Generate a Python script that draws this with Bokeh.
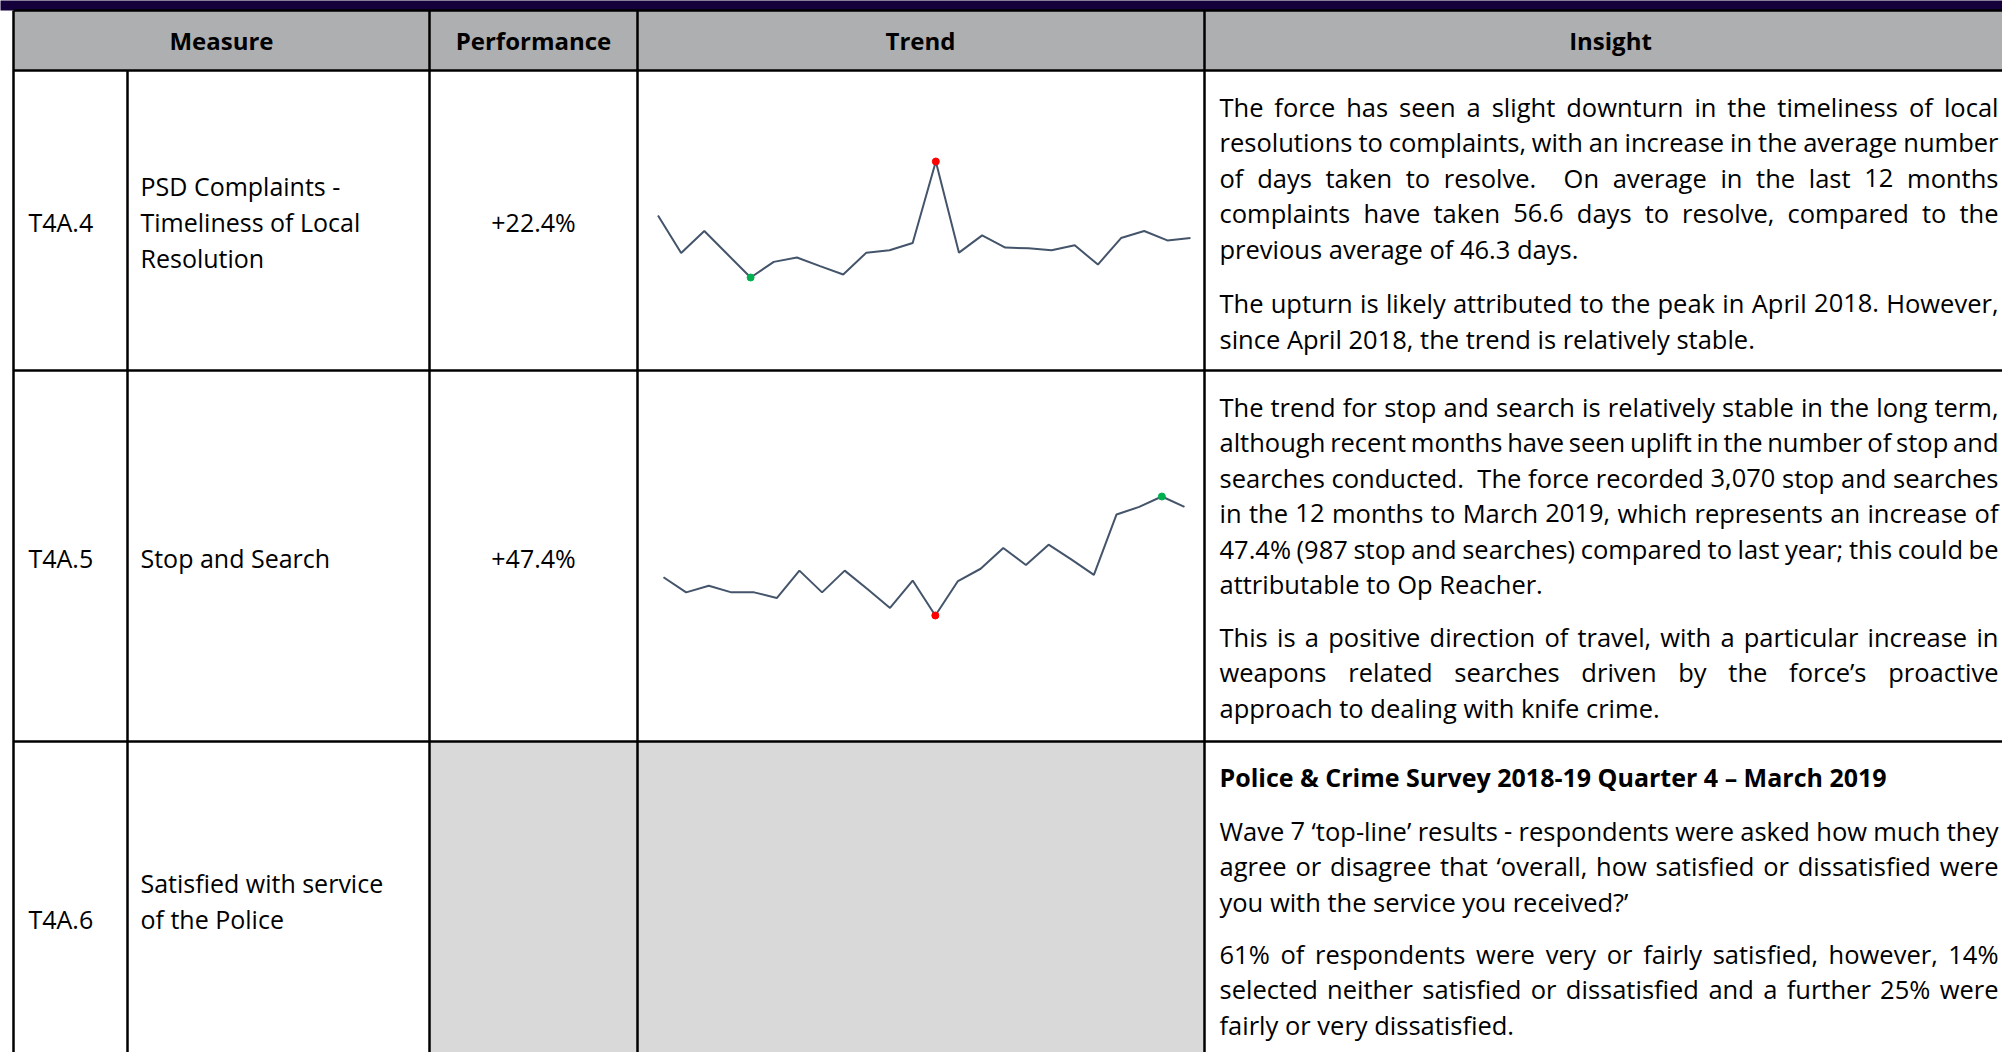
from bokeh.plotting import figure
from bokeh.models import Range1d
from bokeh.core.properties import value
from bokeh.embed import file_html
from bokeh.resources import INLINE

# ---------------- data ----------------
months = ["Apr-17", "May-17", "Jun-17", "Jul-17", "Aug-17", "Sep-17", "Oct-17", "Nov-17",
          "Dec-17", "Jan-18", "Feb-18", "Mar-18", "Apr-18", "May-18", "Jun-18", "Jul-18",
          "Aug-18", "Sep-18", "Oct-18", "Nov-18", "Dec-18", "Jan-19", "Feb-19", "Mar-19"]
psd_days = [71.5, 46.4, 61.1, 45.5, 29.9, 40.4, 43.3, 37.5, 31.9, 46.6, 48.2, 53.1,
            107.8, 46.6, 58.2, 50.0, 49.5, 48.2, 51.5, 38.6, 56.4, 61.1, 54.8, 56.4]
stop_search = [195, 163, 177, 163, 163, 151, 209, 163, 209, 170, 130, 188,
               114, 187, 213, 257, 221, 264, 233, 200, 328, 344, 366, 344]

headers = ["Measure", "Performance", "Trend", "Insight"]
codes = ["T4A.4", "T4A.5", "T4A.6"]
measures = [["PSD Complaints -", "Timeliness of Local", "Resolution"],
            ["Stop and Search"],
            ["Satisfied with service", "of the Police"]]
performance = ["+22.4%", "+47.4%", ""]

insight_1 = [["The force has seen a slight downturn in the timeliness of local",
              "resolutions to complaints, with an increase in the average number",
              "of days taken to resolve.  On average in the last 12 months",
              "complaints have taken 56.6 days to resolve, compared to the",
              "previous average of 46.3 days."],
             ["The upturn is likely attributed to the peak in April 2018. However,",
              "since April 2018, the trend is relatively stable."]]
insight_2 = [["The trend for stop and search is relatively stable in the long term,",
              "although recent months have seen uplift in the number of stop and",
              "searches conducted.  The force recorded 3,070 stop and searches",
              "in the 12 months to March 2019, which represents an increase of",
              "47.4% (987 stop and searches) compared to last year; this could be",
              "attributable to Op Reacher."],
             ["This is a positive direction of travel, with a particular increase in",
              "weapons related searches driven by the force\u2019s proactive",
              "approach to dealing with knife crime."]]
insight_3_title = "Police & Crime Survey 2018-19 Quarter 4 \u2013 March 2019"
insight_3 = [["Wave 7 \u2018top-line\u2019 results - respondents were asked how much they",
              "agree or disagree that \u2018overall, how satisfied or dissatisfied were",
              "you with the service you received?\u2019"],
             ["61% of respondents were very or fairly satisfied, however, 14%",
              "selected neither satisfied or dissatisfied and a further 25% were",
              "fairly or very dissatisfied."]]

# ---------------- layout ----------------
PX0, PY0 = 0, 0
W, H = 2002, 1052
FONT = value("Open Sans")

p = figure(width=W, height=H, x_range=Range1d(PX0, PX0 + W), y_range=Range1d(PY0 + H, PY0),
           output_backend="svg", toolbar_location=None, min_border=0,
           x_axis_location=None, y_axis_location=None)
p.grid.visible = False
p.outline_line_color = None
p.background_fill_color = "white"
p.border_fill_color = "white"

XR = PX0 + W + 40
YB = PY0 + H + 40
# top bar, header, grey cells
p.quad(left=[-10], right=[XR], top=[-10], bottom=[10], fill_color="#14003A", line_color=None)
p.quad(left=[13], right=[XR], top=[10], bottom=[70], fill_color="#AEAFB1", line_color=None)
p.quad(left=[429], right=[1204], top=[741], bottom=[YB], fill_color="#D9D9D9", line_color=None)

# grid lines
lw = 2.5
p.segment(x0=[13, 13, 13, 13], y0=[10, 70, 370, 741], x1=[XR] * 4, y1=[10, 70, 370, 741],
          line_color="black", line_width=lw)
p.segment(x0=[13, 127, 429, 637, 1204], y0=[10, 70, 10, 10, 10],
          x1=[13, 127, 429, 637, 1204], y1=[YB] * 5, line_color="black", line_width=lw)

# ---------------- sparklines ----------------
def x_range_for(n, px_a, px_b):
    scale = (px_b - px_a) / (n - 1)
    start = -(px_a - PX0) / scale
    return Range1d(start, start + W / scale)

def y_range_for(vmin, vmax, py_min, py_max):
    scale = (py_min - py_max) / (vmax - vmin)
    end = vmax + (py_max - PY0) / scale
    return Range1d(end - H / scale, end)

idx = list(range(len(months)))
p.extra_x_ranges = {"s1x": x_range_for(len(months), 657.5, 1190),
                    "s2x": x_range_for(len(months), 663, 1184)}
p.extra_y_ranges = {"s1y": y_range_for(min(psd_days), max(psd_days), 277, 161),
                    "s2y": y_range_for(min(stop_search), max(stop_search), 615, 496)}

LINE_C = "#44546A"
for key, vals, hi_col, lo_col in [("s1", psd_days, "#FF0000", "#00B050"),
                                  ("s2", stop_search, "#00B050", "#FF0000")]:
    p.line(x=idx, y=vals, x_range_name=key + "x", y_range_name=key + "y",
           line_color=LINE_C, line_width=2)
    imax = vals.index(max(vals))
    imin = vals.index(min(vals))
    p.scatter(x=[imax, imin], y=[vals[imax], vals[imin]], color=[hi_col, lo_col],
              size=7, x_range_name=key + "x", y_range_name=key + "y")

# ---------------- text ----------------
# header
p.text(x=[221, 533, 920, 1610], y=[40] * 4, text=headers, text_font=FONT,
       text_font_style="bold", text_font_size="24px", text_align="center",
       text_baseline="middle", text_color="black")

# left columns
left_xs, left_ys, left_txt = [], [], []
for c, yc in zip(codes, [221, 557, 918]):
    left_xs.append(28); left_ys.append(yc); left_txt.append(c)
for lines, y0 in zip(measures, [185, 557, 882]):
    for k, t in enumerate(lines):
        left_xs.append(140); left_ys.append(y0 + 36 * k); left_txt.append(t)
p.text(x=left_xs, y=left_ys, text=left_txt, text_font=FONT, text_font_size="25px",
       text_baseline="middle", text_align="left", text_color="black")
p.text(x=[533, 533], y=[221, 557], text=performance[:2], text_font=FONT, text_font_size="25px",
       text_baseline="middle", text_align="center", text_color="black")

# insight (justified)
_W = {' ': 532, '!': 565, '%': 1686, '&': 1491, "'": 445, '(': 606, ')': 606, ',': 502,
      '-': 659, '.': 545, ':': 545, ';': 545, '?': 879, '\u2018': 358, '\u2019': 358, '\u2013': 1024}
for d in "0123456789":
    _W[d] = 1171
_W.update(dict(A=1296, B=1327, C=1292, D=1493, E=1139, F=1057, G=1491, H=1511, I=571, J=547,
               K=1257, L=1063, M=1849, N=1544, O=1595, P=1233, Q=1595, R=1266, S=1104, T=1120,
               U=1511, V=1233, W=1890, X=1219, Y=1153, Z=1169,
               a=1139, b=1255, c=975, d=1255, e=1149, f=694, g=1122, h=1257, i=518, j=518,
               k=1075, l=518, m=1905, n=1257, o=1237, p=1255, q=1255, r=836, s=977, t=723,
               u=1257, v=1026, w=1593, x=1073, y=1028, z=977))

FS = 25.5
LEFT, RIGHT = 1219, 1998
LS = 35.5

def tw(s):
    return sum(_W.get(ch, 1100) for ch in s) / 2048.0 * FS

groups = {"left": ([], [], []), "center": ([], [], []), "right": ([], [], [])}

def add(x, y, t, a):
    g = groups[a]
    g[0].append(x); g[1].append(y); g[2].append(t)

def place_paragraph(lines, y0):
    for k, line in enumerate(lines):
        y = y0 + LS * k
        if k == len(lines) - 1:
            add(LEFT, y, line, "left")
            continue
        words = line.split(" ")
        ws = [tw(w) for w in words]
        gap = (RIGHT - LEFT - sum(ws)) / (len(words) - 1)
        x = LEFT
        for i, (w, wd) in enumerate(zip(words, ws)):
            if w:
                if i == 0:
                    add(x, y, w, "left")
                elif i == len(words) - 1:
                    add(RIGHT, y, w, "right")
                else:
                    add(x + wd / 2, y, w, "center")
            x += wd + gap

place_paragraph(insight_1[0], 106)
place_paragraph(insight_1[1], 302.6)
place_paragraph(insight_2[0], 406)
place_paragraph(insight_2[1], 636)
place_paragraph(insight_3[0], 830)
place_paragraph(insight_3[1], 953)

for a, (xs, ys, ts) in groups.items():
    p.text(x=xs, y=ys, text=ts, text_font=FONT, text_font_size=f"{FS}px",
           text_align=a, text_baseline="middle", text_color="black")

p.text(x=[LEFT], y=[776], text=[insight_3_title], text_font=FONT, text_font_style="bold",
       text_font_size="25px", text_align="left", text_baseline="middle", text_color="black")

open("out.html", "w").write(file_html(p, INLINE))
